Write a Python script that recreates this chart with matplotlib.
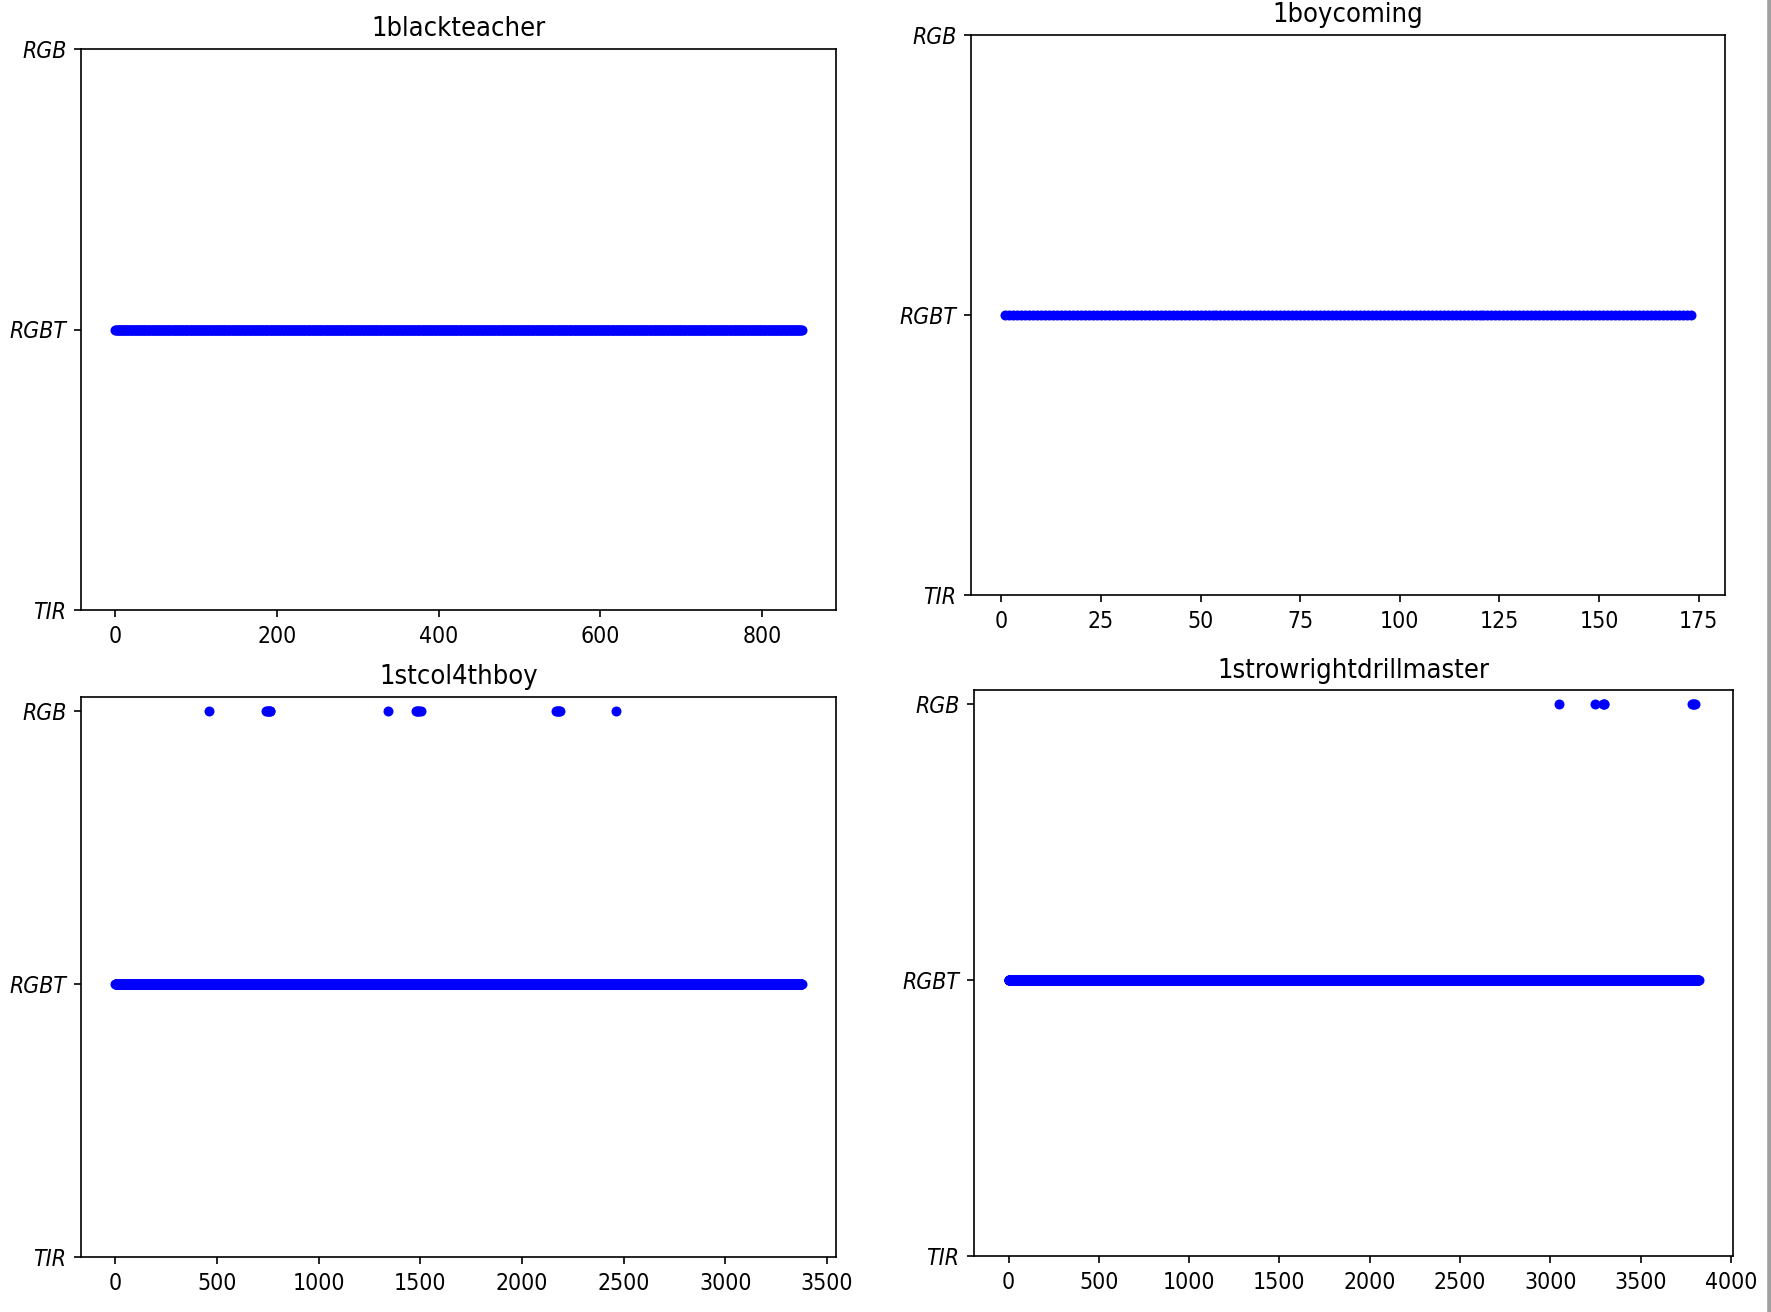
import numpy as np
import matplotlib.pyplot as plt
from matplotlib.lines import Line2D

# class labels on the y axis (bottom to top)
classes = ['TIR', 'RGBT', 'RGB']

# one panel per video: title, number of frames, first frame index,
# frames that were labelled RGB (all others are RGBT)
titles = ['1blackteacher', '1boycoming', '1stcol4thboy', '1strowrightdrillmaster']
n_frames = [850, 173, 3376, 3822]
first_frame = [0, 1, 0, 0]
rgb_frames = [
    [],
    [],
    [462, 740, 745, 750, 755, 760, 762, 1341, 1480, 1485, 1490, 1495, 1502,
     2165, 2170, 2175, 2180, 2187, 2460],
    [3050, 3250, 3290, 3295, 3300, 3785, 3790, 3795, 3800],
]

# axes boxes in pixels: left, top, right, bottom
W, H = 1771, 1312
boxes = [
    (81, 49, 836, 610),
    (971, 35, 1725, 595),
    (81, 697, 836, 1257),
    (974, 690, 1733, 1256),
]
ylims = [(0, 2), (0, 2), (0, 2.05), (0, 2.05)]

plt.rcParams['font.family'] = ['DejaVu Sans']
plt.rcParams['font.stretch'] = 'condensed'
fig = plt.figure(figsize=(W / 150, H / 150), dpi=150)

for i in range(4):
    l, t, r, b = boxes[i]
    ax = fig.add_axes([l / W, 1 - b / H, (r - l) / W, (b - t) / H])
    frames = np.arange(first_frame[i], first_frame[i] + n_frames[i])
    labels = np.ones(n_frames[i])
    rgb_x = np.array(rgb_frames[i], dtype=float)
    ax.plot(frames, labels, 'o', color='blue', ms=4.8, mec='none')
    if len(rgb_x):
        ax.plot(rgb_x, np.full(len(rgb_x), 2.0), 'o', color='blue', ms=4.8, mec='none')
    ax.set_yticks([0, 1, 2])
    ax.set_yticklabels(classes, fontstyle='italic')
    ax.set_ylim(*ylims[i])
    ax.set_title(titles[i], fontsize=13)
    ax.tick_params(labelsize=11)

# grey border strip at right edge of the screenshot
fig.add_artist(Line2D([1768.5 / W, 1768.5 / W], [0, 1], color='#a0a0a0', lw=2.2,
                      transform=fig.transFigure))

fig.savefig('out.png', dpi=150)
